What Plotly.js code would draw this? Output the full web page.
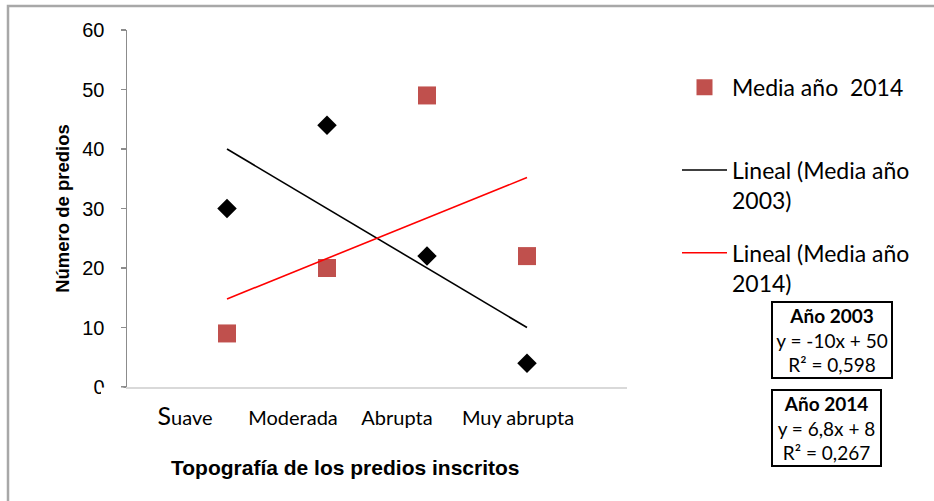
<!DOCTYPE html>
<html>
<head>
<meta charset="utf-8">
<script src="https://cdn.plot.ly/plotly-3.0.1.min.js"></script>
<style>html,body{margin:0;padding:0;background:#fff;}#chart{width:934px;height:501px;}</style>
</head>
<body>
<div id="chart"></div>
<script>
// ---- data ----
const categories = ["Suave", "Moderada", "Abrupta", "Muy abrupta"];
const categoryX = [1, 2, 3, 4];
const media2003 = [30, 44, 22, 4];
const media2014 = [9, 20, 49, 22];
const trendX = [1, 4];
const trend2003 = [40, 10];
const trend2014 = [14.8, 35.2];
const yTicks = [0, 10, 20, 30, 40, 50, 60];
const eq2003 = ["Año 2003", "y = -10x + 50", "R² = 0,598"];
const eq2014 = ["Año 2014", "y = 6,8x + 8", "R² = 0,267"];

const calib = "Lato, 'Open Sans', sans-serif";
const arial = "'Liberation Sans', Arial, sans-serif";

const traces = [
  {x: categoryX, y: media2003, mode: "markers", type: "scatter", name: "Media año 2003",
   marker: {symbol: "diamond", size: 15, color: "#000000"}, showlegend: false},
  {x: categoryX, y: media2014, mode: "markers", type: "scatter", name: "Media año  2014<br> ",
   marker: {symbol: "square", size: 18, color: "#C0504D"}, legendgroup: "a"},
  {x: trendX, y: trend2003, mode: "lines", type: "scatter", name: "Lineal (Media año<br>2003)",
   line: {color: "#000000", width: 1.6}, legendgroup: "b"},
  {x: trendX, y: trend2014, mode: "lines", type: "scatter", name: "Lineal (Media año<br>2014)",
   line: {color: "#FF0000", width: 1.6}, legendgroup: "c"}
];

const tickPos = [0.58, 1.66, 2.70, 3.91];
const tickText = categories.map((c, i) => i === 0 ? "<span style='font-size:25px'>S</span>uave" : c);

const layout = {
  width: 934, height: 501,
  margin: {l: 127, r: 307, t: 30, b: 114},
  paper_bgcolor: "#ffffff", plot_bgcolor: "#ffffff",
  showlegend: true,
  legend: {x: 1.1, xanchor: "left", y: 0.9, yanchor: "top", valign: "top",
           font: {family: calib, size: 23, color: "#000"}, tracegroupgap: 20,
           bgcolor: "rgba(0,0,0,0)", itemwidth: 45},
  xaxis: {range: [0, 5], showgrid: false, zeroline: false, showline: true, linecolor: "#d9d9d9", linewidth: 1.5,
          tickvals: tickPos, ticktext: tickText, ticks: "", ticklabelstandoff: 12,
          tickfont: {family: calib, size: 20, color: "#000"}, fixedrange: true},
  yaxis: {range: [0, 60], tickvals: yTicks, showgrid: false, zeroline: false, showline: true,
          linecolor: "#8c8c8c", linewidth: 1.5, ticks: "outside", ticklen: 5, tickcolor: "#8c8c8c", tickwidth: 1.5,
          ticklabelstandoff: 12, tickfont: {family: arial, size: 20, color: "#000"},
          title: {text: "<b>Número de predios</b>", font: {family: arial, size: 18.5, color: "#000"}, standoff: 8}},
  shapes: [
    {type: "rect", xref: "paper", yref: "paper", x0: -0.238, x1: 1.62, y0: -0.35, y1: 1.067,
     line: {color: "#a8a8a8", width: 2.5}, fillcolor: "rgba(0,0,0,0)", layer: "below"},
    {type: "rect", xref: "paper", yref: "paper", x0: -0.052, x1: -0.007, y0: -0.04, y1: -0.0015,
     line: {width: 0}, fillcolor: "#ffffff", layer: "above"}
  ],
  annotations: [
    {text: "<b>Topografía de los predios inscritos</b>", xref: "paper", yref: "paper",
     x: (345 - 127) / 500, y: (387 - 467) / 357, xanchor: "center", yanchor: "middle", showarrow: false,
     font: {family: arial, size: 21, color: "#000"}},
    {text: "<b>" + eq2003[0] + "</b><br>" + eq2003[1] + "<br>" + eq2003[2], xref: "paper", yref: "paper",
     x: (832 - 127) / 500, y: (387 - 340) / 357, xanchor: "center", yanchor: "middle", showarrow: false,
     width: 116, bordercolor: "#000", borderwidth: 2, borderpad: 1, bgcolor: "#fff",
     font: {family: calib, size: 19, color: "#000"}},
    {text: "<b>" + eq2014[0] + "</b><br>" + eq2014[1] + "<br>" + eq2014[2], xref: "paper", yref: "paper",
     x: (826.5 - 127) / 500, y: (387 - 428) / 357, xanchor: "center", yanchor: "middle", showarrow: false,
     width: 105, bordercolor: "#000", borderwidth: 2, borderpad: 1, bgcolor: "#fff",
     font: {family: calib, size: 19, color: "#000"}}
  ]
};

Plotly.newPlot("chart", traces, layout, {staticPlot: true});
</script>
</body>
</html>
